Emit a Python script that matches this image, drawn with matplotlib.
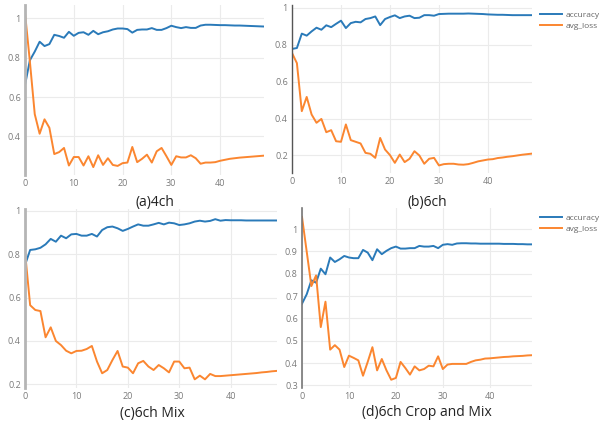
import matplotlib
matplotlib.use("Agg")
import matplotlib.pyplot as plt
from matplotlib.ticker import FuncFormatter

plt.rcParams["font.family"] = ["Open Sans", "DejaVu Sans"]

epochs = list(range(50))

# (a) 4ch
acc_a = [0.66, 0.786, 0.83, 0.88, 0.858, 0.868, 0.915, 0.909, 0.90, 0.93,
         0.91, 0.925, 0.928, 0.915, 0.935, 0.918, 0.928, 0.933, 0.942, 0.947,
         0.947, 0.944, 0.926, 0.94, 0.942, 0.942, 0.949, 0.94, 0.94, 0.949,
         0.961, 0.954, 0.949, 0.954, 0.95, 0.95, 0.962, 0.966, 0.966, 0.965,
         0.964, 0.964, 0.963, 0.962, 0.962, 0.961, 0.960, 0.959, 0.958, 0.957]
loss_a = [1.026, 0.78, 0.513, 0.414, 0.487, 0.444, 0.311, 0.321, 0.342, 0.253,
          0.296, 0.296, 0.253, 0.30, 0.245, 0.305, 0.256, 0.29, 0.256, 0.251,
          0.265, 0.268, 0.347, 0.27, 0.287, 0.308, 0.268, 0.325, 0.342, 0.30,
          0.256, 0.30, 0.294, 0.294, 0.305, 0.29, 0.262, 0.268, 0.268, 0.27,
          0.277, 0.282, 0.287, 0.29, 0.293, 0.295, 0.297, 0.299, 0.301, 0.303]

# (b) 6ch
acc_b = [0.777, 0.782, 0.86, 0.849, 0.872, 0.892, 0.881, 0.905, 0.895, 0.913,
         0.93, 0.89, 0.917, 0.924, 0.921, 0.939, 0.944, 0.953, 0.906, 0.939,
         0.95, 0.959, 0.944, 0.953, 0.957, 0.944, 0.946, 0.96, 0.96, 0.957,
         0.966, 0.967, 0.968, 0.968, 0.968, 0.968, 0.969, 0.968, 0.967, 0.966,
         0.964, 0.963, 0.962, 0.962, 0.961, 0.96, 0.96, 0.96, 0.96, 0.96]
loss_b = [0.755, 0.70, 0.44, 0.517, 0.422, 0.377, 0.398, 0.326, 0.337, 0.277,
          0.274, 0.368, 0.283, 0.274, 0.265, 0.214, 0.209, 0.187, 0.295, 0.232,
          0.202, 0.16, 0.205, 0.164, 0.182, 0.223, 0.20, 0.155, 0.182, 0.187,
          0.146, 0.153, 0.155, 0.155, 0.151, 0.15, 0.153, 0.16, 0.168, 0.173,
          0.178, 0.18, 0.186, 0.189, 0.193, 0.196, 0.20, 0.204, 0.207, 0.21]

# (c) 6ch Mix
acc_c = [0.75, 0.82, 0.823, 0.83, 0.846, 0.871, 0.858, 0.886, 0.874, 0.892,
         0.894, 0.886, 0.886, 0.894, 0.882, 0.912, 0.925, 0.928, 0.92, 0.908,
         0.917, 0.928, 0.938, 0.932, 0.932, 0.938, 0.945, 0.938, 0.946, 0.943,
         0.935, 0.938, 0.943, 0.951, 0.955, 0.951, 0.954, 0.962, 0.955, 0.958,
         0.957, 0.957, 0.957, 0.956, 0.956, 0.956, 0.956, 0.956, 0.956, 0.956]
loss_c = [0.812, 0.565, 0.543, 0.538, 0.417, 0.463, 0.40, 0.381, 0.355, 0.343,
          0.354, 0.355, 0.363, 0.377, 0.305, 0.251, 0.266, 0.312, 0.354, 0.282,
          0.277, 0.251, 0.297, 0.308, 0.282, 0.266, 0.289, 0.274, 0.255, 0.305,
          0.305, 0.274, 0.277, 0.223, 0.24, 0.223, 0.248, 0.238, 0.238, 0.24,
          0.242, 0.244, 0.246, 0.248, 0.25, 0.252, 0.255, 0.257, 0.26, 0.262]

# (d) 6ch Crop and Mix
acc_d = [0.666, 0.708, 0.771, 0.76, 0.823, 0.798, 0.873, 0.853, 0.865, 0.88,
         0.873, 0.87, 0.87, 0.907, 0.895, 0.861, 0.91, 0.888, 0.903, 0.915,
         0.922, 0.913, 0.913, 0.915, 0.915, 0.925, 0.922, 0.922, 0.925, 0.915,
         0.93, 0.933, 0.93, 0.936, 0.937, 0.937, 0.936, 0.936, 0.935, 0.935,
         0.935, 0.935, 0.935, 0.934, 0.934, 0.934, 0.933, 0.933, 0.932, 0.932]
loss_d = [1.055, 0.90, 0.745, 0.793, 0.561, 0.675, 0.46, 0.48, 0.46, 0.382,
          0.433, 0.423, 0.412, 0.343, 0.405, 0.471, 0.367, 0.418, 0.367, 0.325,
          0.333, 0.405, 0.378, 0.348, 0.385, 0.367, 0.373, 0.388, 0.385, 0.43,
          0.373, 0.393, 0.396, 0.396, 0.396, 0.396, 0.405, 0.412, 0.415, 0.42,
          0.421, 0.423, 0.425, 0.427, 0.428, 0.43, 0.431, 0.432, 0.434, 0.435]

W, H = 608, 425

# panel boxes in pixels: left, top, right, bottom
panels = [
    dict(box=(25, 5, 264, 175), acc=acc_a, loss=loss_a, ylim=(0.205, 1.066),
         yticks=[0.4, 0.6, 0.8, 1.0], spine=("#b5b5b5", 2.0),
         title="(a)4ch", tpos=(155, 202), legend=False),
    dict(box=(292, 5, 532, 173), acc=acc_b, loss=loss_b, ylim=(0.105, 1.015),
         yticks=[0.2, 0.4, 0.6, 0.8, 1.0], spine=("#555555", 1.0),
         title="(b)6ch", tpos=(427, 202), legend=True),
    dict(box=(25, 209, 277, 388), acc=acc_c, loss=loss_c, ylim=(0.183, 1.009),
         yticks=[0.2, 0.4, 0.6, 0.8, 1.0], spine=("#b5b5b5", 2.0),
         title="(c)6ch Mix", tpos=(152, 413), legend=False),
    dict(box=(302, 208, 532, 388), acc=acc_d, loss=loss_d, ylim=(0.288, 1.095),
         yticks=[0.3, 0.4, 0.5, 0.6, 0.7, 0.8, 0.9, 1.0], spine=("#777777", 1.2),
         title="(d)6ch Crop and Mix", tpos=(427, 413), legend=True),
]

fig = plt.figure(figsize=(W / 100, H / 100), dpi=100)
fmt = FuncFormatter(lambda v, p: f"{v:g}")

for p in panels:
    l, t, r, b = p["box"]
    ax = fig.add_axes([l / W, 1 - b / H, (r - l) / W, (b - t) / H])
    ax.plot(epochs, p["acc"], color="#2a7ab9", lw=1.4, label="accuracy")
    ax.plot(epochs, p["loss"], color="#fb8630", lw=1.4, label="avg_loss")
    ax.set_xlim(0, 49)
    ax.set_ylim(*p["ylim"])
    ax.set_xticks([0, 10, 20, 30, 40])
    ax.set_yticks(p["yticks"])
    ax.yaxis.set_major_formatter(fmt)
    ax.grid(True, color="#ebebeb", lw=0.8)
    ax.set_axisbelow(True)
    for s in ["top", "right", "bottom"]:
        ax.spines[s].set_visible(False)
    ax.spines["left"].set_color(p["spine"][0])
    ax.spines["left"].set_linewidth(p["spine"][1])
    ax.tick_params(length=0, labelsize=6.5, labelcolor="#7a7a7a", pad=3)
    if p["legend"]:
        ax.legend(loc="upper left", bbox_to_anchor=(1.01, 1.0), frameon=False,
                  fontsize=6, labelcolor="#666666", handlelength=2.6,
                  handletextpad=0.5, borderaxespad=0.3, labelspacing=0.4)
    fig.text(p["tpos"][0] / W, 1 - p["tpos"][1] / H, p["title"],
             ha="center", va="center", fontsize=10, color="#222222")

fig.savefig("out.png", dpi=100)
